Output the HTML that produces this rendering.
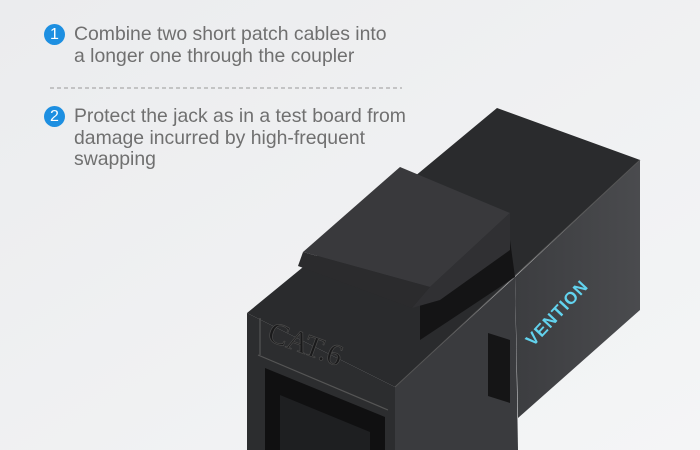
<!DOCTYPE html>
<html><head><meta charset="utf-8"><style>
body{margin:0;width:700px;height:450px;overflow:hidden;background:#eceef0;font-family:"Liberation Sans",sans-serif;}
.t{position:absolute;left:74px;font-size:19.4px;line-height:21.5px;color:#707070;}
.c{position:absolute;width:21px;height:21px;border-radius:50%;background:#1d8fe1;color:#fff;font-size:16px;line-height:21px;text-align:center;}
</style></head><body>
<svg width="700" height="450" style="position:absolute;left:0;top:0">
<defs>
<linearGradient id="bg" x1="0" y1="0" x2="1" y2="1"><stop offset="0" stop-color="#ebecee"/><stop offset="1" stop-color="#f4f5f6"/></linearGradient>
<linearGradient id="rf" x1="0" y1="0" x2="1" y2="0"><stop offset="0" stop-color="#3c3d40"/><stop offset="1" stop-color="#4a4b4e"/></linearGradient>
</defs>
<rect width="700" height="450" fill="url(#bg)"/>
<line x1="50" y1="88" x2="402" y2="88" stroke="#999" stroke-dasharray="4,3" stroke-width="1"/>
<polygon points="247,313 395,387 640,160 497,108 420,172 330,245" fill="#2a2b2d"/>
<polygon points="247,313 395,387 395,450 247,450" fill="#2c2d2f"/>
<polygon points="395,387 515,277 518,450 395,450" fill="#3a3b3e"/>
<polygon points="515,277 640,160 640,310 518,418" fill="url(#rf)"/>
<line x1="395" y1="387" x2="640" y2="160" stroke="#555" stroke-width="1"/>
<polygon points="488,333 510,340 510,403 488,396" fill="#151516"/>
<polygon points="265,368 385,417 385,450 265,450" fill="#101011"/>
<polygon points="280,395 370,432 370,450 280,450" fill="#1e1f21"/>
<line x1="258" y1="355" x2="388" y2="410" stroke="#555" stroke-width="1.2"/>
<text x="0" y="0" transform="translate(266,340) rotate(20)" font-family="Liberation Serif,serif" font-size="30" fill="#1a1a1b" stroke="#4a4a4a" stroke-width="0.7">CAT.6</text>
<line x1="260" y1="318" x2="260" y2="355" stroke="#555" stroke-width="1.2"/>
<polygon points="420,300 510,240 515,277 420,340" fill="#141415"/>
<polygon points="303,252 400,167 510,213 430,287" fill="#39393c"/>
<polygon points="303,252 430,287 412,308 298,266" fill="#2b2b2d"/>
<polygon points="430,287 510,213 510,250 440,300 412,308" fill="#303033"/>
<text transform="translate(533,347) rotate(-47)" font-family="Liberation Sans,sans-serif" font-size="17" font-weight="bold" letter-spacing="1" fill="#62d3ee">VENTION</text>
</svg>
<div class="c" style="left:44px;top:24px">1</div>
<div class="t" style="top:24px">Combine two short patch cables into<br>a longer one through the coupler</div>
<div class="c" style="left:44px;top:106px">2</div>
<div class="t" style="top:106px">Protect the jack as in a test board from<br>damage incurred by high-frequent<br>swapping</div>
</body></html>
